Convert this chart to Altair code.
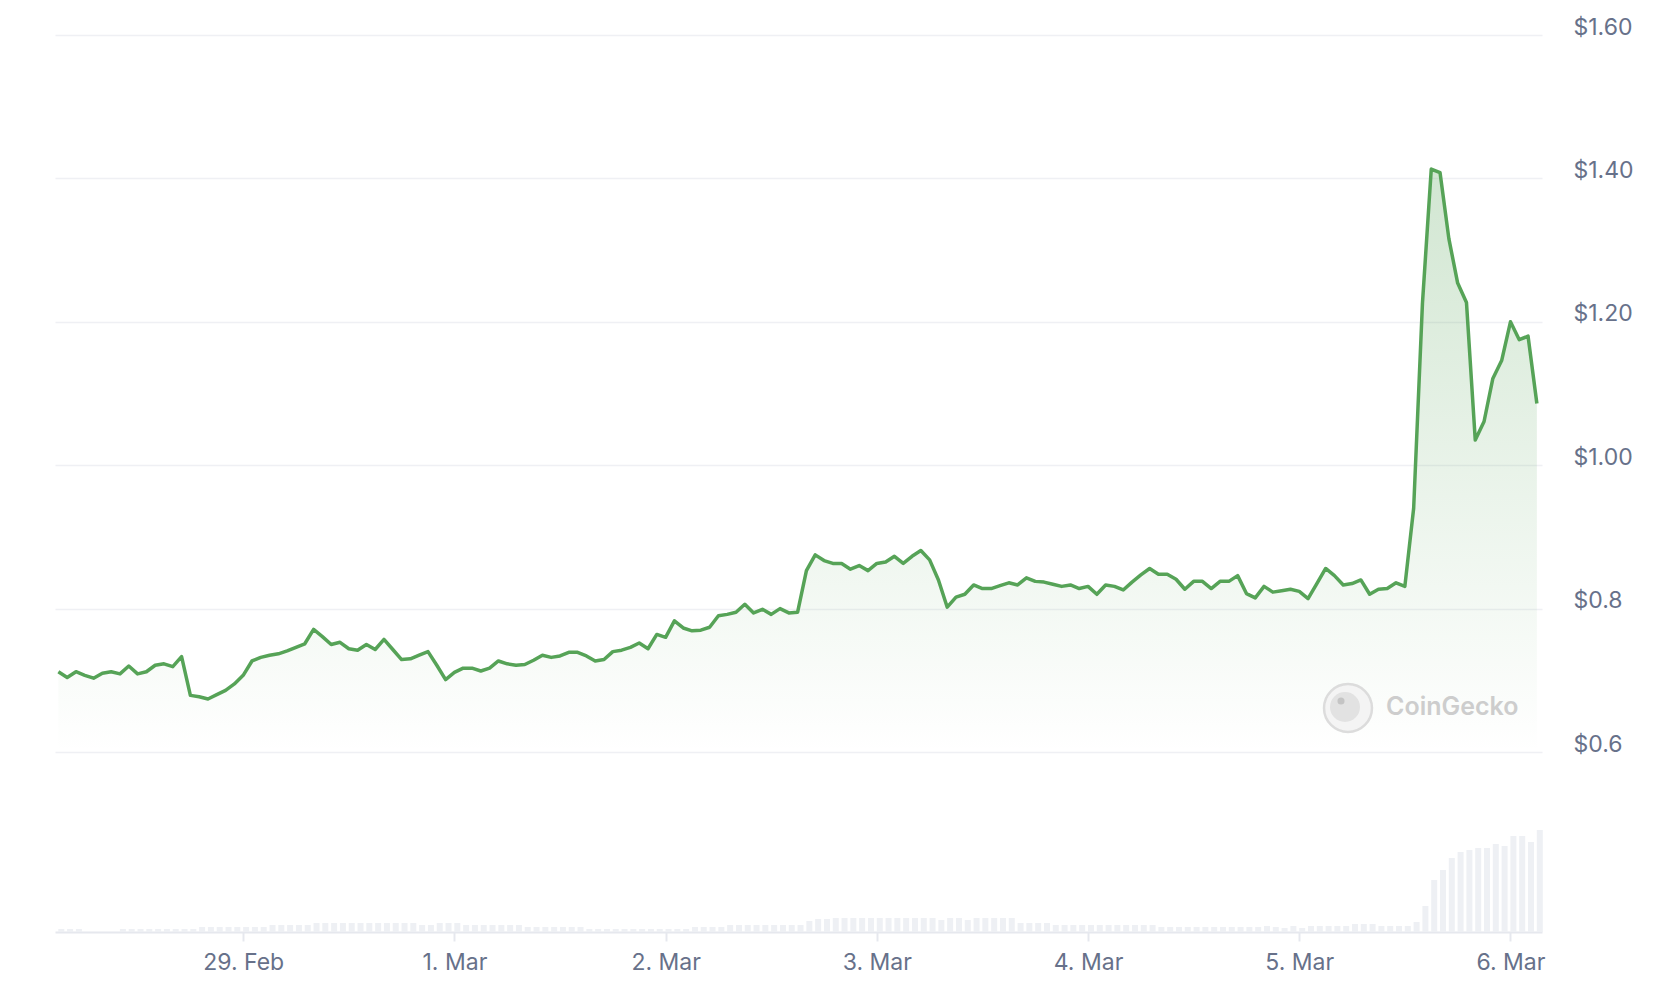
import altair as alt
import pandas as pd

# ---------------- data ----------------
start_time = "2024-02-28 03:00"   # first hourly sample

price = [
    0.712, 0.704, 0.712, 0.707, 0.703, 0.710, 0.712, 0.709, 0.720, 0.709,
    0.712, 0.721, 0.723, 0.719, 0.733, 0.679, 0.677, 0.674, 0.680, 0.686,
    0.695, 0.707, 0.727, 0.732, 0.735, 0.737, 0.741, 0.746, 0.751, 0.771,
    0.761, 0.750, 0.753, 0.744, 0.742, 0.750, 0.743, 0.757, 0.743, 0.729,
    0.730, 0.735, 0.740, 0.721, 0.701, 0.711, 0.717, 0.717, 0.713, 0.717,
    0.727, 0.723, 0.721, 0.722, 0.728, 0.735, 0.732, 0.734, 0.739, 0.739,
    0.734, 0.727, 0.729, 0.740, 0.742, 0.746, 0.752, 0.744, 0.764, 0.760,
    0.783, 0.773, 0.769, 0.770, 0.774, 0.790, 0.792, 0.795, 0.806, 0.794,
    0.799, 0.792, 0.800, 0.794, 0.795, 0.853, 0.875, 0.867, 0.863, 0.863,
    0.855, 0.860, 0.853, 0.863, 0.865, 0.873, 0.863, 0.873, 0.881, 0.868,
    0.840, 0.802, 0.816, 0.820, 0.833, 0.828, 0.828, 0.832, 0.836, 0.833,
    0.843, 0.838, 0.837, 0.834, 0.831, 0.833, 0.828, 0.831, 0.820, 0.833,
    0.831, 0.826, 0.837, 0.847, 0.856, 0.848, 0.848, 0.841, 0.827, 0.838,
    0.838, 0.828, 0.838, 0.838, 0.846, 0.821, 0.815, 0.831, 0.823, 0.825,
    0.827, 0.824, 0.814, 0.835, 0.856, 0.846, 0.833, 0.835, 0.840, 0.820,
    0.827, 0.828, 0.836, 0.831, 0.940, 1.226, 1.413, 1.408, 1.316, 1.254,
    1.227, 1.035, 1.061, 1.121, 1.146, 1.200, 1.175, 1.180, 1.086,
]

# relative traded volume (bar heights)
volume = [
    3, 3, 3, 0, 0, 0, 0, 3, 3, 3,
    3, 3, 3, 3, 3, 3, 5, 5, 5, 5,
    5, 5, 5, 5, 7, 7, 7, 7, 7, 9,
    9, 9, 9, 9, 9, 9, 9, 9, 9, 9,
    9, 7, 7, 9, 9, 9, 7, 7, 7, 7,
    7, 7, 7, 5, 5, 5, 5, 5, 5, 5,
    3, 3, 3, 3, 3, 3, 3, 3, 3, 3,
    3, 3, 5, 5, 5, 5, 7, 7, 7, 7,
    7, 7, 7, 7, 7, 11, 13, 13, 14, 14,
    14, 14, 14, 14, 14, 14, 14, 14, 14, 14,
    12, 14, 14, 12, 14, 14, 14, 14, 14, 9,
    9, 9, 9, 7, 7, 7, 7, 7, 7, 7,
    7, 7, 7, 7, 7, 5, 5, 5, 5, 5,
    5, 5, 5, 5, 5, 5, 5, 6, 5, 4,
    6, 4, 6, 6, 6, 6, 6, 8, 8, 8,
    6, 6, 6, 6, 10, 26, 52, 62, 74, 80,
    82, 84, 84, 88, 86, 96, 96, 90, 102,
]

y_ticks = [0.6, 0.8, 1.0, 1.2, 1.4, 1.6]
day_ticks = [(2, 29), (3, 1), (3, 2), (3, 3), (3, 4), (3, 5), (3, 6)]

# ---------------- tables ----------------
times = pd.date_range(start_time, periods=len(price), freq="h")
price_df = pd.DataFrame({"time": times.strftime("%Y-%m-%dT%H:%M:%S"), "price": price})
vol_df = pd.DataFrame({
    "time": (times + pd.Timedelta(minutes=20)).strftime("%Y-%m-%dT%H:%M:%S"),
    "volume": volume,
})

LABEL = "#67718a"
GRID = "#eff0f4"
GREEN = "#56a357"
FONT = "Inter"

x_scale = alt.Scale(domain=[
    alt.DateTime(year=2024, month=2, date=28, hours=2, minutes=37),
    alt.DateTime(year=2024, month=3, date=6, hours=3, minutes=35),
], nice=False, padding=0)
x_axis = alt.Axis(
    values=[alt.DateTime(year=2024, month=m, date=d) for m, d in day_ticks],
    format="%-d. %b", title=None, grid=False,
    labelFont=FONT, labelFontSize=23, labelColor=LABEL, labelPadding=10,
    domainColor="#e6e8ee", domainWidth=2, tickColor="#e6e8ee", tickWidth=2, tickSize=9,
)

price_scale = alt.Scale(domain=[0.349, 1.6], nice=False, zero=False)
y_axis = alt.Axis(
    orient="right", values=y_ticks, title=None, domain=False, ticks=False,
    grid=True, gridColor=GRID, gridWidth=1.5,
    labelFont=FONT, labelFontSize=23, labelColor=LABEL, labelPadding=31,
    labelOffset=-8,
    labelExpr="datum.value >= 1 ? '$' + format(datum.value, '.2f') : '$' + format(datum.value, '.1f')",
)

bars = alt.Chart(vol_df).mark_bar(width=6, color="#eef0f4").encode(
    x=alt.X("time:T", scale=x_scale, axis=x_axis),
    y=alt.Y("volume:Q", scale=alt.Scale(domain=[0, 897], nice=False), axis=None),
)

area = alt.Chart(price_df).mark_area(
    color=alt.Gradient(
        gradient="linear",
        stops=[alt.GradientStop(color="rgba(86,163,87,0.27)", offset=0),
               alt.GradientStop(color="rgba(86,163,87,0.0)", offset=1)],
        x1=1, x2=1, y1=0, y2=1,
    ),
).encode(
    x=alt.X("time:T", scale=x_scale, axis=x_axis),
    y=alt.Y("price:Q", scale=price_scale, axis=y_axis),
    y2=alt.datum(0.6),
)

line = alt.Chart(price_df).mark_line(color=GREEN, strokeWidth=3.5, strokeJoin="round").encode(
    x=alt.X("time:T", scale=x_scale, axis=x_axis),
    y=alt.Y("price:Q", scale=price_scale, axis=y_axis),
)

mark_df = pd.DataFrame({"label": ["CoinGecko"]})
logo_ring = alt.Chart(mark_df).mark_point(
    shape="circle", size=2300, filled=True, fill="#f4f4f4", stroke="#dcdcdc", strokeWidth=2.5, opacity=1
).encode(x=alt.value(1293), y=alt.value(673))
logo_head = alt.Chart(mark_df).mark_point(
    shape="circle", size=900, filled=True, color="#e2e2e2", opacity=1
).encode(x=alt.value(1290), y=alt.value(672))
logo_eye = alt.Chart(mark_df).mark_point(
    shape="circle", size=50, filled=True, color="#c4c4c4", opacity=1
).encode(x=alt.value(1286), y=alt.value(666))
wm_text = alt.Chart(mark_df).mark_text(
    align="left", baseline="middle", font=FONT, fontSize=25, fontWeight=600, color="#cdcdcd"
).encode(x=alt.value(1331), y=alt.value(672), text="label:N")

price_layers = alt.layer(area, line)

chart = alt.layer(bars, price_layers, logo_ring, logo_head, logo_eye, wm_text).resolve_scale(
    y="independent"
).properties(
    width=1487, height=897,
    autosize=alt.AutoSizeParams(type="none"),
    padding={"left": 47, "top": 27, "right": 110, "bottom": 60},
).configure(background="white", view=alt.ViewConfig(stroke=None))

chart.save("out.html", embed_options={"renderer": "svg", "actions": False})
